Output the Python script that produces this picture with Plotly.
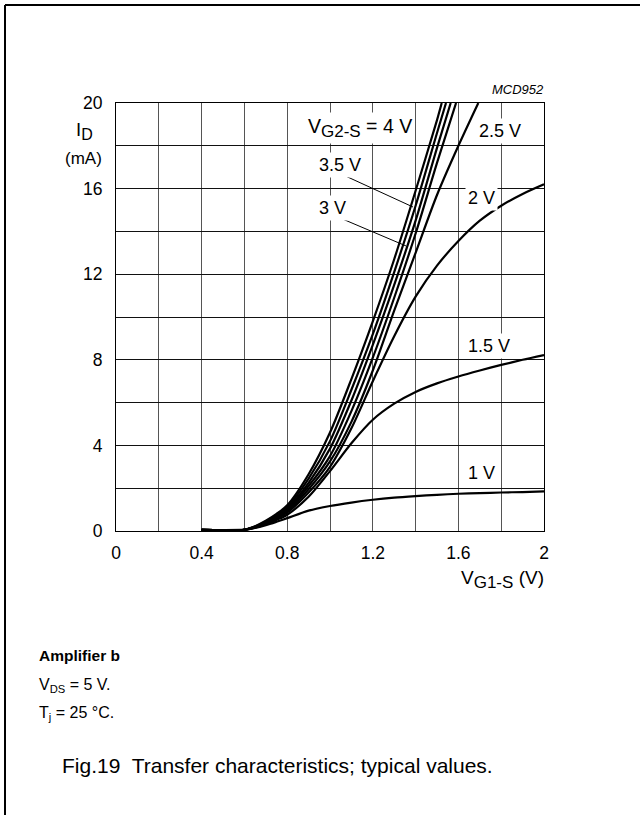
import plotly.graph_objects as go

# Transfer characteristics, amplifier b: I_D (mA) versus V_G1-S (V) for several V_G2-S
vg1_steep_4v = [0.4, 0.5, 0.6, 0.65, 0.7, 0.75, 0.8, 0.9, 1.0, 1.1, 1.2, 1.3, 1.4, 1.5, 1.522]
id_4v = [0.05, 0.04, 0.06, 0.22, 0.48, 0.8, 1.2, 2.65, 4.6, 7.1, 9.8, 12.7, 15.9, 19.2, 20.0]

vg1_steep_3v5 = [0.4, 0.5, 0.6, 0.65, 0.7, 0.75, 0.8, 0.9, 1.0, 1.1, 1.2, 1.3, 1.4, 1.5, 1.542]
id_3v5 = [0.05, 0.04, 0.06, 0.21, 0.45, 0.75, 1.12, 2.45, 4.2, 6.6, 9.2, 12.1, 15.2, 18.6, 20.0]

vg1_steep_3v = [0.4, 0.5, 0.6, 0.65, 0.7, 0.75, 0.8, 0.9, 1.0, 1.1, 1.2, 1.3, 1.4, 1.5, 1.564]
id_3v = [0.05, 0.04, 0.06, 0.2, 0.42, 0.7, 1.05, 2.25, 3.85, 6.1, 8.7, 11.5, 14.5, 17.9, 20.0]

vg1_steep_b = [0.4, 0.5, 0.6, 0.65, 0.7, 0.75, 0.8, 0.9, 1.0, 1.1, 1.2, 1.3, 1.4, 1.5, 1.589]
id_b = [0.05, 0.04, 0.06, 0.19, 0.4, 0.66, 0.98, 2.1, 3.5, 5.6, 8.1, 10.9, 13.9, 17.2, 20.0]

vg1_2v5 = [0.4, 0.5, 0.6, 0.65, 0.7, 0.75, 0.8, 0.9, 1.0, 1.1, 1.2, 1.3, 1.4, 1.5, 1.6, 1.693]
id_2v5 = [0.05, 0.04, 0.06, 0.18, 0.37, 0.62, 0.92, 1.95, 3.25, 5.1, 7.5, 10.3, 13.0, 15.7, 18.0, 20.0]

vg1_full = [0.4, 0.5, 0.6, 0.65, 0.7, 0.75, 0.8, 0.9, 1.0, 1.1, 1.2, 1.3, 1.4, 1.5, 1.6, 1.7, 1.8, 1.9, 2.0]
id_2v = [0.05, 0.04, 0.06, 0.17, 0.35, 0.58, 0.86, 1.8, 3.0, 4.8, 7.0, 9.1, 10.95, 12.4, 13.55, 14.5, 15.2, 15.75, 16.2]
id_1v5 = [0.05, 0.04, 0.06, 0.16, 0.32, 0.52, 0.76, 1.6, 2.8, 4.1, 5.2, 5.95, 6.5, 6.9, 7.22, 7.5, 7.76, 8.0, 8.22]
id_1v = [0.05, 0.04, 0.06, 0.14, 0.27, 0.43, 0.6, 0.95, 1.17, 1.33, 1.46, 1.56, 1.63, 1.69, 1.74, 1.77, 1.8, 1.82, 1.85]

curves = [
    (vg1_steep_4v, id_4v),
    (vg1_steep_3v5, id_3v5),
    (vg1_steep_3v, id_3v),
    (vg1_steep_b, id_b),
    (vg1_2v5, id_2v5),
    (vg1_full, id_2v),
    (vg1_full, id_1v5),
    (vg1_full, id_1v),
]

x_tick_vals = [0, 0.2, 0.4, 0.6, 0.8, 1.0, 1.2, 1.4, 1.6, 1.8, 2.0]
x_tick_text = ["0", "", "0.4", "", "0.8", "", "1.2", "", "1.6", "", "2"]
y_tick_vals = [0, 2, 4, 6, 8, 10, 12, 14, 16, 18, 20]
y_tick_text = ["0", "", "4", "", "8", "", "12", "", "16", "", "20"]


def sub(text, size):
    return "<sub><span style='font-size:%dpx'>%s</span></sub>" % (size, text)


# curve labels: (text, font size, V_G1-S at left edge, I_D at centre)
curve_labels = [
    ("V" + sub("G2-S", 17) + " = 4 V", 19.5, 0.883, 18.85),
    ("2.5 V", 18, 1.682, 18.69),
    ("3.5 V", 18, 0.935, 17.1),
    ("3 V", 18, 0.935, 15.09),
    ("2 V", 18, 1.631, 15.56),
    ("1.5 V", 18, 1.631, 8.64),
    ("1 V", 18, 1.631, 2.71),
]
# leader lines from labels to curves: (x0, y0, x1, y1)
leaders = [
    (1.061, 16.64, 1.388, 15.14),
    (1.037, 14.67, 1.355, 13.32),
]

FONT = "Liberation Sans, Arial, sans-serif"
W, H = 640, 815
L, R, T, B = 116, 96, 103, 284
PW, PH = W - L - R, H - T - B


def px(xp):
    return (xp - L) / PW


def py(yp):
    return (H - B - yp) / PH


fig = go.Figure()
for xs, ys in curves:
    fig.add_trace(go.Scatter(
        x=xs, y=ys, mode="lines",
        line=dict(color="black", width=2.2, shape="spline", smoothing=0.8),
        hoverinfo="skip", showlegend=False,
    ))

annotations = []
for text, size, xv, yv in curve_labels:
    annotations.append(dict(
        x=xv, y=yv, xref="x", yref="y", text=text, showarrow=False,
        font=dict(family=FONT, size=size, color="black"),
        bgcolor="white", borderpad=2, xanchor="left", yanchor="middle",
    ))

# axis titles and notes
annotations += [
    dict(x=px(84), y=py(131), xref="paper", yref="paper", text="I" + sub("D", 16),
         showarrow=False, font=dict(family=FONT, size=18.5), xanchor="center", yanchor="middle"),
    dict(x=px(104), y=py(158), xref="paper", yref="paper", text="(mA)",
         showarrow=False, font=dict(family=FONT, size=17), xanchor="right", yanchor="middle"),
    dict(x=px(546), y=py(579), xref="paper", yref="paper", text="V" + sub("G1-S", 17) + " (V)",
         showarrow=False, font=dict(family=FONT, size=19), xanchor="right", yanchor="middle"),
    dict(x=px(546), y=py(90), xref="paper", yref="paper", text="<i>MCD952</i>",
         showarrow=False, font=dict(family=FONT, size=13), xanchor="right", yanchor="middle"),
    dict(x=px(37), y=py(655), xref="paper", yref="paper", text="<b>Amplifier b</b>",
         showarrow=False, font=dict(family=FONT, size=15.5), xanchor="left", yanchor="middle"),
    dict(x=px(37), y=py(685), xref="paper", yref="paper", text="V<sub>DS</sub> = 5 V.",
         showarrow=False, font=dict(family=FONT, size=16), xanchor="left", yanchor="middle"),
    dict(x=px(37), y=py(713), xref="paper", yref="paper", text="T<sub>j</sub> = 25 °C.",
         showarrow=False, font=dict(family=FONT, size=16), xanchor="left", yanchor="middle"),
    dict(x=px(277), y=py(765), xref="paper", yref="paper",
         text="Fig.19  Transfer characteristics; typical values.",
         showarrow=False, font=dict(family=FONT, size=21), xanchor="center", yanchor="middle"),
]

shapes = []
for x0, y0, x1, y1 in leaders:
    shapes.append(dict(type="line", xref="x", yref="y", x0=x0, y0=y0, x1=x1, y1=y1,
                       line=dict(color="black", width=1)))
# page frame (top and left rules)
shapes.append(dict(type="line", xref="paper", yref="paper", x0=px(5), y0=py(5), x1=px(640), y1=py(5),
                   line=dict(color="black", width=2)))
shapes.append(dict(type="line", xref="paper", yref="paper", x0=px(5), y0=py(5), x1=px(5), y1=py(815),
                   line=dict(color="black", width=2)))

fig.update_layout(
    width=W, height=H, autosize=False,
    margin=dict(l=L, r=R, t=T, b=B, pad=0),
    paper_bgcolor="white", plot_bgcolor="white",
    font=dict(family=FONT, size=18, color="black"),
    annotations=annotations, shapes=shapes,
    showlegend=False,
)
fig.update_xaxes(
    range=[0, 2], tickvals=x_tick_vals, ticktext=x_tick_text,
    showgrid=True, gridcolor="#555555", gridwidth=1.2, zeroline=False,
    showline=True, mirror=True, linecolor="black", linewidth=1, ticks="",
    tickfont=dict(family=FONT, size=17.5), ticklabelstandoff=6, fixedrange=True,
)
fig.update_yaxes(
    range=[0, 20], tickvals=y_tick_vals, ticktext=y_tick_text,
    showgrid=True, gridcolor="#111111", gridwidth=1, zeroline=False,
    showline=True, mirror=True, linecolor="black", linewidth=1, ticks="",
    tickfont=dict(family=FONT, size=17.5), ticklabelstandoff=9, fixedrange=True,
)

fig.write_html("out.html")
